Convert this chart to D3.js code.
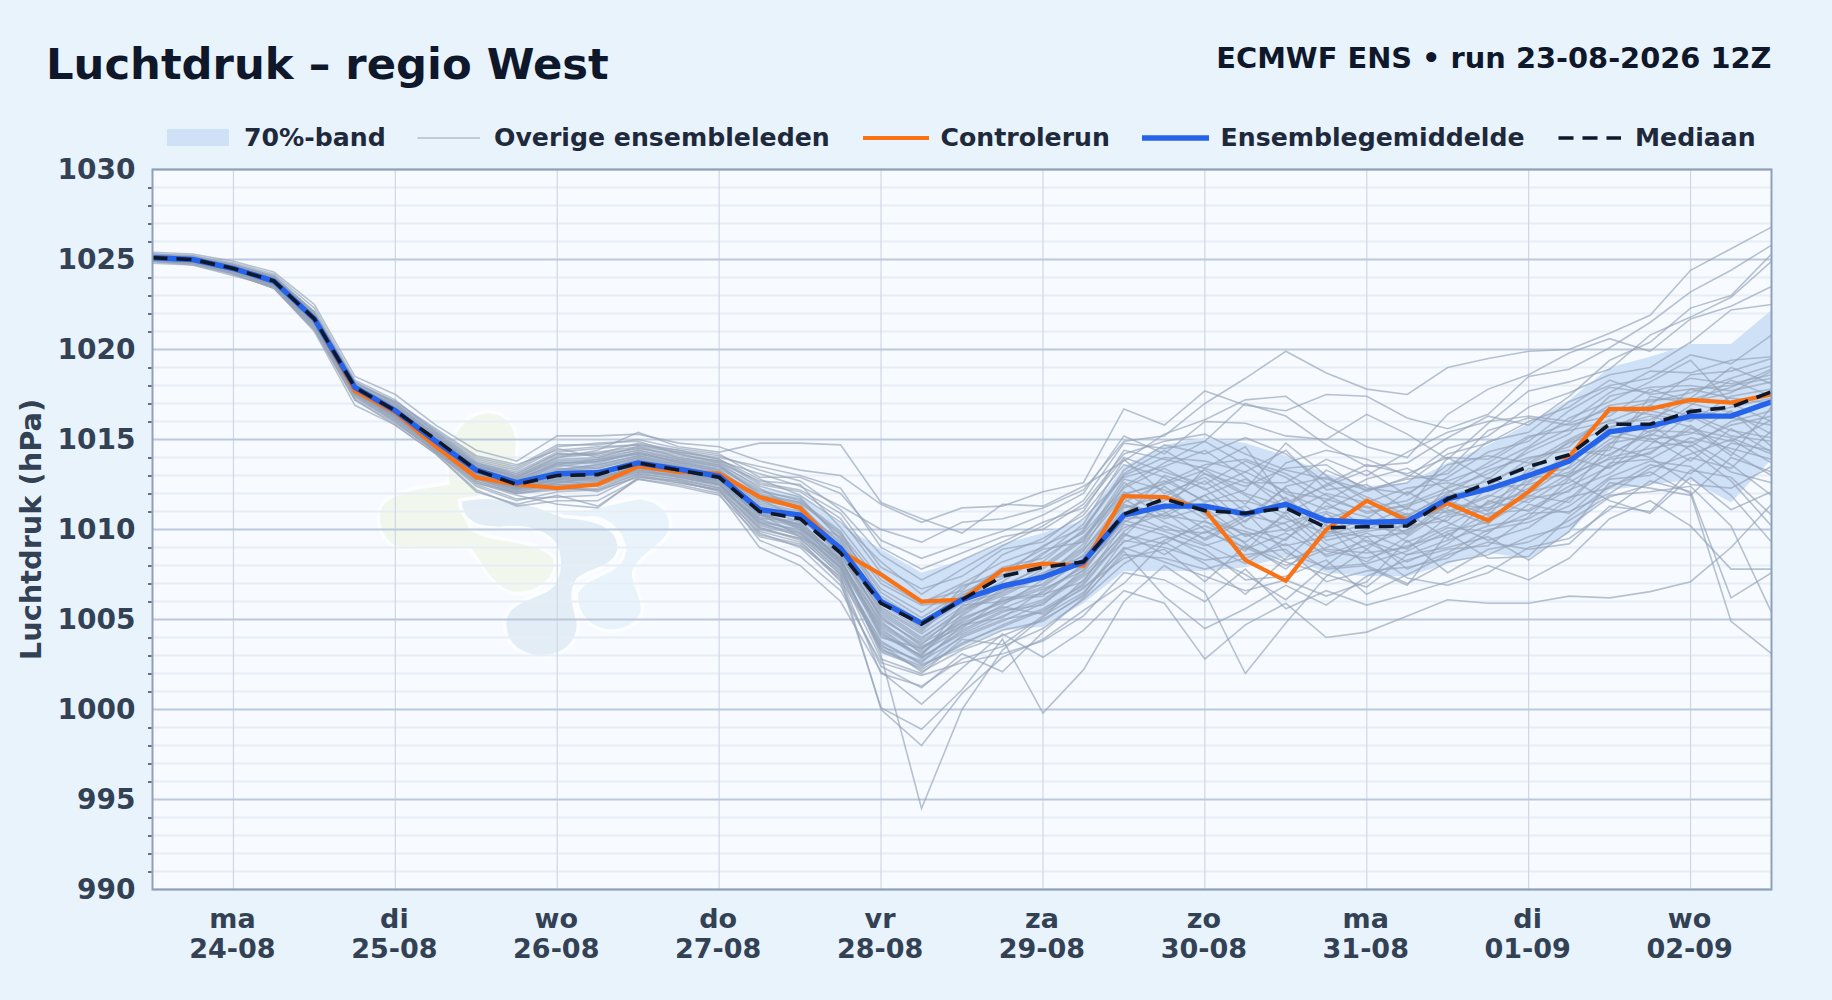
<!DOCTYPE html>
<html lang="nl">
<head>
<meta charset="utf-8">
<title>Luchtdruk - regio West</title>
<script src="https://cdn.jsdelivr.net/npm/d3@7"></script>
<style>
  html, body { margin: 0; padding: 0; background: #e9f3fc; }
  svg { display: block; }
  text { font-family: "DejaVu Sans", sans-serif; font-weight: 700; }
</style>
</head>
<body>
<div id="chart"></div>
<script>
const WIDTH = 1832;
const HEIGHT = 1000;
const STEP_HOURS = 6;

const dayNames = ['ma', 'di', 'wo', 'do', 'vr', 'za', 'zo', 'ma', 'di', 'wo'];
const dayDates = ['24-08', '25-08', '26-08', '27-08', '28-08', '29-08', '30-08', '31-08', '01-09', '02-09'];
const dayHours = [12, 36, 60, 84, 108, 132, 156, 180, 204, 228];
const majorTicks = [990, 995, 1000, 1005, 1010, 1015, 1020, 1025, 1030];
const minorTicks = d3.range(990, 1031).filter(d => d % 5 !== 0);

const controlRun = [1025.1,1025.0,1024.5,1023.8,1021.7,1017.7,1016.5,1014.6,1012.9,1012.5,1012.3,1012.5,1013.5,1013.2,1013.1,1011.8,1011.2,1008.8,1007.5,1006.0,1006.1,1007.75,1008.1,1008.0,1011.85,1011.8,1011.1,1008.3,1007.15,1010.0,1011.6,1010.5,1011.45,1010.5,1012.1,1014.05,1016.7,1016.7,1017.2,1017.05,1017.5];
const ensembleMean = [1025.1,1025.0,1024.5,1023.8,1021.7,1017.9,1016.6,1014.9,1013.3,1012.6,1013.1,1013.15,1013.7,1013.35,1012.95,1011.1,1010.8,1008.95,1006.0,1004.8,1006.1,1006.85,1007.35,1008.2,1010.8,1011.3,1011.3,1010.86,1011.4,1010.5,1010.4,1010.45,1011.7,1012.25,1013.0,1013.8,1015.43,1015.75,1016.3,1016.3,1017.1];
const ensembleMedian = [1025.1,1025.0,1024.5,1023.8,1021.7,1017.9,1016.6,1015.0,1013.3,1012.5,1013.0,1013.05,1013.7,1013.3,1012.9,1011.0,1010.6,1008.7,1005.9,1004.75,1006.1,1007.4,1007.9,1008.2,1010.85,1011.7,1011.05,1010.9,1011.2,1010.1,1010.15,1010.2,1011.7,1012.6,1013.5,1014.15,1015.85,1015.85,1016.55,1016.8,1017.65];
const bandUpper = [1025.3,1025.2,1024.8,1024.1,1022.1,1018.2,1017.0,1015.6,1013.8,1013.0,1013.9,1014.0,1014.3,1014.0,1013.6,1012.3,1011.9,1010.3,1008.9,1007.6,1008.3,1009.2,1009.8,1010.5,1013.5,1014.7,1015.1,1014.8,1014.1,1013.1,1012.4,1012.6,1013.7,1014.7,1015.9,1017.2,1019.0,1019.6,1020.3,1020.3,1022.2];
const bandLower = [1024.9,1024.8,1024.2,1023.5,1021.3,1017.6,1016.2,1014.5,1012.8,1012.0,1012.4,1012.4,1013.0,1012.9,1012.4,1010.2,1009.7,1007.6,1003.1,1002.4,1003.5,1004.4,1004.6,1005.9,1007.7,1007.7,1007.7,1007.9,1008.5,1007.6,1007.4,1007.4,1008.1,1008.7,1008.4,1009.8,1012.2,1012.5,1012.75,1011.5,1013.9];

// individual runs
const members = [
  [1025.3,1025.2,1024.8,1024.2,1022.3,1018.3,1017.2,1015.4,1013.9,1013.4,1014.6,1014.8,1014.9,1014.2,1013.8,1013.1,1012.4,1011.3,1010.0,1009.3,1010.4,1010.6,1011.2,1012.2,1014.9,1015.2,1017.0,1018.4,1019.9,1018.7,1017.8,1017.5,1019.0,1019.5,1019.9,1020.0,1020.9,1021.9,1024.4,1025.6,1026.8],
  [1025.0,1024.9,1024.4,1023.7,1021.5,1017.6,1016.3,1014.7,1013.0,1012.2,1012.8,1012.9,1013.5,1013.2,1012.8,1010.7,1010.1,1008.1,1003.0,994.5,1000.0,1003.3,1005.1,1007.2,1009.9,1011.4,1010.0,1008.8,1011.0,1009.2,1008.2,1009.6,1011.1,1010.3,1012.6,1014.0,1013.4,1015.1,1013.8,1015.6,1014.3],
  [1024.9,1024.8,1024.2,1023.4,1021.0,1016.9,1015.8,1014.2,1012.1,1011.4,1011.9,1011.3,1012.8,1012.4,1011.9,1009.6,1009.1,1007.4,1000.0,998.0,1000.9,1002.9,1003.9,1005.5,1007.0,1009.3,1008.1,1006.4,1008.4,1010.3,1007.9,1006.9,1009.8,1008.4,1008.5,1010.7,1012.4,1013.2,1012.0,1004.9,1003.1],
  [1024.8,1024.7,1024.1,1023.5,1021.2,1017.3,1016.0,1014.3,1012.6,1011.9,1011.4,1011.2,1012.9,1012.6,1012.2,1010.1,1009.4,1007.1,1000.1,998.9,1001.1,1003.9,999.8,1002.2,1006.0,1008.0,1006.5,1002.0,1004.8,1007.4,1008.9,1007.3,1006.9,1007.6,1009.0,1009.5,1011.1,1012.7,1012.1,1006.2,1007.6],
  [1025.3,1025.2,1024.7,1024.1,1022.1,1018.2,1017.0,1015.2,1013.5,1012.9,1014.0,1014.4,1015.4,1014.6,1014.3,1014.8,1014.8,1014.7,1011.5,1010.6,1009.8,1011.4,1011.3,1012.4,1013.8,1015.3,1016.1,1017.2,1017.4,1015.8,1014.6,1014.0,1016.4,1017.8,1018.6,1019.8,1020.6,1019.9,1021.7,1022.4,1023.5],
  [1025.4,1025.3,1024.9,1024.3,1022.5,1018.5,1017.5,1015.8,1014.4,1013.8,1015.2,1015.2,1015.3,1014.8,1014.6,1013.8,1013.3,1013.0,1011.4,1010.4,1011.2,1011.3,1012.1,1012.6,1016.7,1015.8,1017.7,1016.9,1016.6,1017.5,1017.4,1016.2,1015.6,1016.4,1018.5,1018.9,1020.1,1021.5,1023.2,1024.4,1025.8],
  [1025.2,1025.1,1024.7,1024.0,1021.9,1018.0,1016.8,1015.1,1013.5,1013.0,1014.1,1014.3,1014.6,1014.3,1013.9,1012.8,1011.9,1010.4,1008.2,1006.4,1007.8,1009.1,1010.2,1011.6,1014.8,1014.5,1014.9,1017.0,1016.3,1014.7,1013.5,1013.7,1015.1,1016.3,1015.8,1017.4,1019.4,1020.4,1022.3,1023.0,1025.3],
  [1025.1,1024.9,1024.4,1023.7,1021.6,1017.8,1016.4,1014.6,1012.9,1012.2,1013.3,1013.6,1014.1,1013.6,1013.0,1011.7,1010.6,1009.6,1006.7,1005.4,1006.9,1007.4,1009.1,1010.1,1013.1,1014.4,1013.1,1012.4,1013.4,1013.6,1012.1,1012.9,1014.5,1015.2,1016.8,1017.6,1018.6,1019.0,1020.4,1022.2,1022.5],
  [1025.0,1024.9,1024.5,1023.7,1021.6,1017.7,1016.5,1014.8,1013.2,1012.6,1013.6,1013.9,1014.4,1013.9,1013.6,1011.9,1011.4,1009.0,1005.4,1003.9,1005.6,1006.4,1007.5,1009.0,1012.4,1013.7,1014.9,1013.6,1012.0,1011.1,1012.2,1012.8,1013.1,1014.9,1015.4,1017.1,1018.0,1018.4,1019.7,1019.2,1020.8],
  [1025.2,1025.0,1024.5,1023.8,1021.7,1017.8,1016.6,1015.0,1013.4,1012.8,1013.7,1013.7,1014.3,1013.7,1013.4,1012.1,1011.7,1009.5,1006.3,1004.9,1006.3,1007.9,1008.4,1009.9,1013.3,1014.7,1014.2,1015.1,1014.2,1012.6,1011.2,1011.6,1012.9,1014.3,1014.9,1016.6,1017.9,1017.6,1018.4,1018.1,1018.6],
  [1025.1,1025.0,1024.4,1023.7,1021.5,1017.8,1016.5,1014.9,1013.3,1012.7,1013.2,1013.5,1014.0,1013.5,1013.2,1011.4,1010.9,1008.6,1004.8,1003.4,1005.0,1006.0,1007.0,1008.6,1011.5,1012.6,1013.6,1013.9,1013.1,1011.9,1010.9,1011.4,1012.3,1013.1,1014.3,1015.3,1017.4,1017.9,1018.0,1017.7,1018.2],
  [1025.1,1024.9,1024.5,1023.8,1021.6,1017.9,1016.6,1015.0,1013.2,1012.5,1012.9,1013.0,1013.8,1013.4,1013.0,1010.8,1010.3,1008.3,1004.4,1002.9,1004.3,1005.4,1006.1,1007.6,1010.7,1013.0,1012.3,1010.4,1012.4,1012.9,1011.8,1010.8,1011.9,1012.4,1013.9,1014.6,1016.5,1017.1,1017.6,1018.4,1019.1],
  [1024.9,1024.8,1024.3,1023.5,1021.3,1017.5,1016.2,1014.4,1012.8,1012.1,1012.6,1012.7,1013.3,1013.0,1012.7,1010.5,1009.9,1007.9,1003.3,1002.4,1003.6,1004.7,1005.6,1006.9,1009.6,1011.8,1013.1,1011.9,1010.6,1009.8,1010.6,1012.1,1010.9,1011.8,1013.2,1014.9,1015.9,1016.1,1017.2,1017.9,1018.9],
  [1025.2,1025.1,1024.6,1024.0,1021.9,1018.0,1016.9,1015.3,1013.7,1013.2,1014.3,1014.5,1014.7,1014.4,1014.1,1013.3,1012.7,1011.1,1008.6,1007.2,1008.3,1009.3,1010.4,1011.2,1014.0,1013.2,1012.5,1013.8,1012.9,1011.5,1010.1,1009.9,1012.4,1013.7,1015.1,1015.9,1016.7,1016.4,1016.0,1017.4,1017.8],
  [1025.1,1024.9,1024.4,1023.7,1021.6,1017.7,1016.4,1014.6,1013.0,1012.4,1012.7,1012.8,1013.4,1013.1,1012.5,1010.4,1009.6,1007.7,1003.7,1002.6,1004.7,1005.1,1006.6,1007.9,1010.1,1010.9,1011.9,1012.8,1011.7,1009.4,1009.9,1010.2,1010.5,1012.3,1012.5,1013.2,1014.8,1015.2,1016.7,1016.2,1015.8],
  [1024.9,1024.7,1024.2,1023.4,1021.1,1017.2,1015.9,1014.4,1012.7,1012.0,1012.3,1012.2,1013.1,1012.8,1012.3,1009.9,1009.3,1007.3,1002.0,1001.3,1002.8,1003.5,1004.5,1006.1,1008.1,1009.4,1010.2,1009.3,1010.8,1008.8,1008.4,1009.1,1009.7,1010.9,1011.1,1012.4,1013.5,1014.3,1015.6,1015.1,1014.2],
  [1025.1,1024.9,1024.4,1023.6,1021.4,1017.6,1016.3,1014.7,1013.1,1012.4,1012.5,1012.6,1013.6,1013.3,1012.9,1011.2,1010.4,1008.4,1004.1,1003.0,1005.3,1006.7,1006.9,1008.3,1011.2,1011.9,1010.6,1011.3,1009.9,1010.6,1011.3,1009.7,1011.4,1011.2,1012.3,1013.8,1015.2,1014.9,1014.6,1016.0,1016.6],
  [1025.2,1025.0,1024.6,1023.9,1021.8,1017.9,1016.7,1015.1,1013.6,1013.1,1014.2,1014.1,1014.5,1014.1,1013.8,1012.5,1012.1,1010.6,1007.6,1006.0,1006.6,1008.6,1009.5,1010.8,1013.6,1012.9,1011.5,1012.2,1014.8,1013.0,1011.6,1010.7,1012.0,1013.3,1014.0,1014.4,1014.1,1015.5,1015.4,1014.9,1016.1],
  [1025.1,1025.0,1024.5,1023.7,1021.6,1017.8,1016.5,1014.8,1013.1,1012.3,1012.8,1012.9,1013.4,1013.2,1012.6,1010.3,1009.8,1007.8,1003.5,1002.7,1004.0,1004.9,1005.9,1007.4,1009.3,1010.2,1009.2,1008.1,1009.5,1010.9,1009.3,1008.2,1009.2,1010.7,1011.9,1011.5,1013.7,1013.9,1015.1,1014.5,1013.9],
  [1025.0,1024.9,1024.3,1023.5,1021.2,1017.4,1016.0,1014.3,1012.5,1011.7,1011.8,1011.9,1013.0,1012.7,1012.1,1009.8,1009.0,1006.9,1002.4,1001.2,1003.1,1002.1,1004.3,1006.2,1008.8,1006.3,1004.5,1005.6,1006.9,1005.8,1007.4,1008.3,1008.9,1009.1,1010.7,1012.8,1011.6,1010.9,1012.9,1011.1,1012.1],
  [1024.9,1024.8,1024.2,1023.4,1021.1,1017.2,1015.8,1014.2,1012.2,1011.3,1011.6,1011.6,1012.8,1012.5,1012.0,1009.0,1008.0,1006.0,1002.1,1000.3,1002.3,1004.2,1002.9,1004.4,1006.6,1005.9,1002.8,1004.7,1005.9,1004.0,1004.3,1005.2,1006.1,1005.9,1005.9,1006.3,1006.2,1006.55,1007.1,1009.0,1011.4],
  [1025.1,1025.0,1024.5,1023.8,1021.7,1017.8,1016.6,1014.9,1013.2,1012.6,1013.4,1013.2,1013.9,1013.4,1013.1,1011.5,1011.0,1008.9,1005.0,1003.7,1004.8,1005.7,1005.3,1006.8,1008.4,1008.9,1007.1,1009.1,1008.2,1007.5,1006.8,1008.6,1009.0,1009.6,1008.3,1009.9,1012.6,1012.3,1011.9,1014.0,1013.2],
  [1025.2,1025.1,1024.6,1023.9,1021.9,1017.9,1016.8,1015.2,1013.5,1012.9,1013.8,1013.9,1014.2,1013.8,1013.5,1012.2,1011.6,1009.9,1006.1,1004.5,1005.9,1006.5,1007.8,1009.4,1012.8,1012.2,1010.9,1009.2,1007.8,1009.7,1010.3,1011.2,1010.4,1009.4,1010.1,1011.7,1013.6,1015.8,1014.4,1012.7,1010.2],
  [1025.1,1025.0,1024.5,1023.8,1021.6,1017.7,1016.4,1014.7,1013.0,1012.3,1013.0,1013.3,1013.6,1013.1,1012.8,1010.9,1010.2,1008.0,1004.6,1003.2,1004.5,1006.2,1006.4,1007.1,1010.3,1009.7,1008.6,1007.5,1006.1,1008.0,1009.6,1007.8,1008.7,1010.0,1010.4,1011.3,1012.9,1013.8,1013.5,1011.9,1009.3],
  [1025.0,1024.9,1024.3,1023.6,1021.5,1017.5,1016.2,1014.5,1012.8,1012.1,1012.5,1012.4,1013.2,1012.9,1012.4,1010.0,1009.5,1007.5,1002.8,1002.0,1003.9,1003.6,1005.2,1006.5,1009.0,1008.2,1007.4,1006.6,1007.2,1006.3,1007.1,1009.4,1007.6,1008.9,1009.3,1010.5,1011.9,1012.1,1012.4,1010.2,1005.4],
  [1025.1,1025.0,1024.6,1023.8,1021.7,1017.9,1016.7,1015.1,1013.4,1012.7,1013.5,1013.8,1014.2,1013.8,1013.3,1011.8,1011.3,1009.2,1005.6,1004.2,1005.7,1006.8,1008.0,1009.6,1012.1,1010.7,1011.9,1010.1,1009.4,1011.6,1012.8,1013.4,1012.2,1011.0,1013.4,1012.9,1014.7,1016.9,1016.3,1015.2,1014.9],
  [1025.1,1024.9,1024.5,1023.7,1021.7,1017.8,1016.5,1014.8,1013.2,1012.5,1013.1,1013.1,1013.8,1013.5,1013.0,1011.3,1010.7,1008.5,1005.2,1003.5,1004.6,1005.8,1007.2,1008.8,1011.7,1010.4,1009.5,1010.7,1012.3,1010.2,1008.9,1010.5,1011.2,1012.9,1012.0,1013.5,1015.7,1016.3,1015.7,1014.1,1016.8],
  [1025.2,1025.0,1024.5,1023.8,1021.8,1017.9,1016.7,1015.0,1013.4,1012.8,1013.6,1013.4,1014.0,1013.6,1013.3,1011.6,1011.2,1009.3,1005.9,1004.4,1006.8,1007.7,1008.9,1009.3,1012.6,1011.1,1013.4,1014.6,1011.5,1012.4,1013.3,1011.9,1013.6,1014.1,1013.7,1015.0,1016.1,1015.4,1016.9,1018.3,1017.4],
  [1025.1,1025.0,1024.4,1023.7,1021.5,1017.8,1016.4,1014.6,1013.1,1012.4,1012.9,1013.2,1013.7,1013.2,1012.8,1010.6,1010.5,1008.2,1004.9,1003.1,1004.9,1006.1,1006.3,1008.1,1010.9,1012.4,1010.8,1009.7,1010.0,1011.3,1010.7,1009.3,1010.2,1011.5,1012.7,1014.2,1014.4,1017.4,1017.0,1016.5,1015.3],
  [1025.0,1024.9,1024.4,1023.7,1021.6,1017.6,1016.3,1014.5,1012.9,1012.2,1012.6,1012.9,1013.5,1013.0,1012.6,1010.2,1009.7,1007.6,1003.8,1002.5,1003.4,1004.4,1004.9,1006.4,1009.4,1009.0,1008.3,1008.6,1008.9,1007.1,1007.7,1007.9,1008.4,1009.8,1011.4,1010.9,1012.8,1013.0,1014.7,1013.2,1012.6],
  [1025.1,1025.0,1024.5,1023.8,1021.7,1017.8,1016.6,1014.9,1013.3,1012.6,1013.3,1013.6,1014.1,1013.7,1013.2,1011.9,1011.5,1009.8,1007.0,1005.8,1006.0,1007.1,1008.6,1010.3,1013.9,1012.0,1012.9,1011.4,1013.7,1014.4,1013.9,1013.0,1012.7,1013.5,1014.6,1016.2,1017.1,1018.2,1019.4,1017.0,1016.0],
  [1025.3,1025.1,1024.7,1024.1,1022.0,1018.2,1017.1,1015.5,1014.0,1013.5,1014.7,1014.7,1015.0,1014.5,1014.2,1012.9,1012.9,1012.0,1009.4,1008.4,1009.2,1009.9,1010.8,1012.0,1015.2,1014.2,1016.0,1015.9,1015.2,1015.0,1016.4,1015.3,1013.9,1015.9,1017.7,1018.2,1018.9,1020.8,1021.8,1022.9,1024.9],
  [1024.9,1024.8,1024.3,1023.5,1021.3,1017.4,1016.1,1014.3,1012.4,1011.6,1012.1,1012.2,1012.9,1012.7,1012.2,1009.4,1008.5,1006.6,1002.6,1001.9,1002.6,1003.1,1003.8,1005.2,1007.6,1007.2,1006.0,1007.8,1005.6,1006.6,1005.8,1006.4,1007.1,1008.0,1007.2,1008.4,1010.6,1011.6,1010.2,1007.8,1007.8],
  [1025.1,1025.0,1024.5,1023.7,1021.6,1017.8,1016.5,1014.8,1013.1,1012.4,1013.1,1013.0,1013.7,1013.3,1012.9,1011.0,1010.0,1008.6,1005.3,1003.8,1005.2,1006.6,1007.6,1008.5,1011.0,1010.0,1009.8,1010.8,1010.3,1008.5,1009.1,1010.0,1010.8,1011.4,1012.1,1012.6,1014.0,1014.5,1014.9,1013.6,1011.9],
  [1025.0,1024.9,1024.4,1023.7,1021.5,1017.7,1016.4,1014.7,1013.0,1012.3,1012.7,1012.5,1013.3,1012.9,1012.5,1010.4,1010.0,1007.9,1004.3,1002.8,1004.4,1005.5,1005.8,1007.8,1010.4,1011.6,1012.7,1011.0,1008.7,1007.9,1008.1,1008.8,1009.9,1010.4,1011.7,1012.1,1014.6,1014.0,1012.5,1012.3,1013.5],
  [1025.2,1025.0,1024.6,1023.9,1021.8,1018.0,1016.9,1015.2,1013.6,1013.0,1014.0,1014.2,1014.8,1014.4,1013.9,1012.6,1012.2,1010.9,1007.9,1006.7,1007.4,1008.9,1009.3,1011.0,1014.4,1013.9,1013.4,1012.6,1012.6,1013.9,1013.0,1014.3,1015.4,1016.0,1016.3,1016.0,1017.6,1018.8,1018.7,1019.4,1019.6],
  [1025.1,1024.9,1024.5,1023.8,1021.7,1017.9,1016.6,1015.0,1013.3,1012.6,1013.2,1013.4,1013.9,1013.5,1013.1,1011.1,1010.8,1008.8,1005.5,1004.0,1005.4,1007.0,1007.3,1009.2,1011.9,1012.7,1011.6,1011.6,1010.9,1012.0,1011.5,1012.3,1012.6,1012.1,1013.0,1013.4,1015.0,1015.9,1017.8,1017.3,1017.0],
  [1025.1,1025.0,1024.5,1023.7,1021.6,1017.7,1016.5,1014.7,1013.1,1012.5,1012.9,1012.8,1013.5,1013.1,1012.7,1010.8,1010.3,1008.3,1004.7,1003.3,1005.1,1005.9,1006.7,1007.7,1010.6,1010.8,1010.4,1009.9,1009.1,1009.6,1010.0,1010.9,1009.5,1011.6,1011.0,1012.2,1013.1,1014.7,1016.4,1015.5,1015.1],
  [1025.0,1024.9,1024.4,1023.6,1021.5,1017.6,1016.3,1014.6,1012.9,1012.3,1012.4,1012.6,1013.2,1013.0,1012.5,1010.1,1009.5,1007.5,1003.4,1002.2,1003.7,1004.6,1005.5,1006.7,1008.9,1009.6,1008.9,1007.2,1007.4,1008.3,1006.4,1007.5,1008.6,1009.3,1008.9,1009.2,1011.3,1011.0,1013.3,1012.9,1010.8],
  [1025.1,1025.0,1024.6,1023.8,1021.8,1017.9,1016.7,1015.0,1013.4,1012.7,1013.7,1013.8,1014.3,1013.9,1013.5,1012.0,1011.5,1009.7,1006.5,1005.1,1006.5,1007.5,1008.2,1010.0,1013.0,1014.0,1013.8,1013.2,1014.4,1012.2,1012.5,1011.1,1014.0,1012.8,1014.5,1015.6,1016.9,1017.2,1017.3,1019.0,1018.1],
  [1025.1,1024.9,1024.5,1023.8,1021.6,1017.8,1016.5,1014.9,1013.2,1012.5,1013.0,1013.1,1013.8,1013.4,1013.0,1011.2,1010.6,1008.7,1005.1,1003.6,1005.5,1006.3,1007.4,1008.9,1011.3,1011.0,1009.4,1010.5,1011.8,1009.9,1009.6,1009.8,1011.6,1010.8,1012.9,1013.0,1015.5,1015.0,1015.3,1016.6,1014.6],
  [1025.1,1025.0,1024.4,1023.7,1021.7,1017.8,1016.4,1014.8,1013.1,1012.4,1012.8,1013.0,1013.6,1013.2,1012.8,1010.9,1010.1,1008.1,1004.5,1002.9,1004.2,1005.2,1006.0,1007.5,1009.8,1008.6,1009.9,1009.0,1008.0,1008.9,1008.7,1009.0,1010.1,1009.9,1010.9,1011.0,1012.0,1013.4,1014.2,1015.0,1013.7],
  [1025.2,1025.1,1024.6,1024.0,1022.1,1018.1,1017.1,1015.6,1014.1,1013.6,1014.4,1014.6,1014.7,1014.3,1014.0,1013.5,1013.0,1012.3,1009.0,1007.8,1008.7,1009.6,1010.0,1011.4,1014.2,1014.9,1015.3,1014.2,1013.3,1012.8,1012.2,1012.6,1014.2,1014.8,1016.0,1016.8,1018.3,1017.5,1017.8,1018.0,1018.4],
  [1025.2,1025.1,1024.7,1024.0,1022.0,1018.1,1017.0,1015.4,1013.8,1013.3,1014.5,1014.0,1014.6,1014.0,1013.7,1012.7,1012.5,1010.1,1007.2,1005.9,1007.0,1008.2,1009.0,1010.6,1012.9,1013.5,1014.4,1012.9,1011.2,1013.3,1012.3,1012.0,1013.3,1015.5,1016.2,1015.8,1016.3,1017.8,1017.1,1017.6,1018.8],
  [1025.0,1024.8,1024.3,1023.6,1021.4,1017.5,1016.1,1014.5,1012.7,1012.0,1012.2,1012.3,1013.1,1012.8,1012.3,1010.6,1009.8,1007.9,1003.2,1002.3,1004.1,1005.0,1005.4,1007.0,1009.7,1009.2,1010.5,1008.9,1009.8,1008.6,1009.4,1008.6,1009.4,1010.2,1010.6,1011.8,1012.3,1013.6,1013.1,1014.8,1014.4],
  [1025.1,1024.9,1024.4,1023.6,1021.5,1017.7,1016.3,1014.6,1012.8,1012.3,1012.6,1012.9,1013.4,1012.9,1012.5,1010.9,1009.6,1008.4,1004.2,1003.0,1005.8,1006.0,1006.8,1008.4,1011.4,1010.6,1011.2,1009.6,1010.4,1011.0,1010.2,1010.7,1011.0,1011.9,1011.5,1012.9,1014.2,1015.3,1014.8,1015.8,1016.3],
  [1025.1,1025.0,1024.5,1023.8,1021.7,1017.9,1016.7,1015.2,1013.6,1012.9,1013.9,1014.0,1014.4,1014.0,1013.6,1012.4,1011.8,1009.4,1006.0,1004.6,1006.2,1007.3,1008.7,1009.8,1012.3,1013.4,1012.2,1013.2,1012.1,1011.7,1011.0,1011.3,1012.1,1012.7,1013.6,1014.8,1015.6,1016.6,1016.1,1016.8,1017.3],
  [1025.0,1024.9,1024.3,1023.6,1021.4,1017.6,1016.2,1014.4,1012.6,1012.0,1012.4,1012.1,1013.0,1012.6,1012.2,1009.7,1009.2,1007.2,1003.6,1002.1,1003.3,1004.1,1005.0,1006.3,1008.6,1008.4,1007.8,1008.4,1009.2,1007.8,1008.0,1007.0,1008.2,1008.6,1009.6,1010.2,1011.8,1012.5,1014.0,1013.4,1015.5],
  [1025.2,1025.0,1024.6,1023.9,1021.8,1018.0,1016.8,1015.3,1013.7,1013.1,1014.2,1014.2,1014.5,1014.2,1013.7,1012.3,1011.0,1009.1,1005.7,1004.3,1006.4,1006.9,1007.9,1009.5,1012.0,1012.5,1013.3,1012.0,1011.3,1012.5,1013.6,1013.1,1014.0,1013.9,1015.2,1015.5,1016.0,1016.9,1018.6,1018.8,1019.5],
  [1025.1,1024.9,1024.5,1023.7,1021.6,1017.7,1016.4,1014.7,1013.0,1012.4,1012.8,1012.7,1013.6,1013.2,1012.7,1011.0,1010.2,1008.2,1004.0,1003.4,1004.7,1005.6,1006.5,1008.0,1010.5,1009.9,1009.1,1009.8,1008.3,1009.0,1009.8,1008.9,1010.7,1011.1,1011.8,1013.1,1013.9,1014.2,1015.8,1014.3,1013.0]
];

const width = WIDTH;
const margin = { left: 152.5, right: 60.5, top: 169.5, bottom: 110.5 };

const x = d3.scaleLinear().domain([0, 240]).range([margin.left, WIDTH - margin.right]);
const y = d3.scaleLinear().domain([990, 1030]).range([HEIGHT - margin.bottom, margin.top]);

const hours = d3.range(0, 241, STEP_HOURS);

const lineFor = d3.line()
  .x((d, i) => x(hours[i]))
  .y(d => y(d));

const svg = d3.select('#chart').append('svg')
  .attr('width', width)
  .attr('height', HEIGHT)
  .attr('viewBox', `0 0 ${width} ${HEIGHT}`);

const defs = svg.append('defs');
defs.append('clipPath').attr('id', 'plot-clip')
  .append('rect')
  .attr('x', x.range()[0])
  .attr('y', y.range()[1])
  .attr('width', x.range()[1] - x.range()[0])
  .attr('height', y.range()[0] - y.range()[1]);

svg.append('rect')
  .attr('width', width)
  .attr('height', HEIGHT)
  .attr('fill', '#e9f3fc');

// Plot background
svg.append('rect')
  .attr('x', x.range()[0])
  .attr('y', y.range()[1])
  .attr('width', x.range()[1] - x.range()[0])
  .attr('height', y.range()[0] - y.range()[1])
  .attr('fill', '#f7fbff');

// Faint logo behind the data
const logo = svg.append('g')
  .attr('transform', 'translate(360, 390) scale(0.3333)')
  .attr('stroke', '#fbfdff')
  .attr('stroke-width', 22)
  .style('paint-order', 'stroke');
logo.append('path')
  .attr('fill', '#f1f7ec')
  .attr('d', 'M60,380 C60,320 140,300 270,285 C255,190 280,90 370,72 C440,62 475,120 465,190 C450,280 300,300 320,400 C340,470 540,440 580,510 C590,570 520,610 460,605 C400,590 370,520 330,470 C240,470 150,475 105,465 C75,445 60,420 60,380 Z');
logo.append('path')
  .attr('fill', '#e8f3fb')
  .attr('d', 'M555,360 C640,385 760,340 840,328 C910,340 935,380 925,420 C905,470 830,490 815,550 C820,600 850,630 840,670 C820,710 770,725 730,715 C680,700 650,660 655,610 C690,550 790,560 800,480 C795,420 740,375 690,378 C640,385 590,385 555,360 Z');
logo.append('path')
  .attr('fill', '#e3edf6')
  .attr('d', 'M305,335 C400,315 500,335 610,385 C700,390 770,410 772,470 C770,530 690,530 650,565 C620,610 640,650 650,700 C650,770 590,800 530,795 C470,785 435,750 440,690 C450,640 520,630 570,600 C610,570 610,500 590,460 C560,420 500,400 420,410 C350,410 310,390 305,335 Z');

// Grid
svg.append('g').selectAll('line')
  .data(minorTicks)
  .join('line')
    .attr('x1', x.range()[0])
    .attr('x2', x.range()[1])
    .attr('y1', d => y(d))
    .attr('y2', d => y(d))
    .attr('stroke', '#e7edf5')
    .attr('stroke-width', 2);

svg.append('g').selectAll('line')
  .data(dayHours)
  .join('line')
    .attr('x1', d => x(d))
    .attr('x2', d => x(d))
    .attr('y1', y.range()[0])
    .attr('y2', y.range()[1])
    .attr('stroke', '#cfd7e4')
    .attr('stroke-width', 1.2);

svg.append('g').selectAll('line')
  .data(majorTicks)
  .join('line')
    .attr('x1', x.range()[0])
    .attr('x2', x.range()[1])
    .attr('y1', d => y(d))
    .attr('y2', d => y(d))
    .attr('stroke', '#bcc8dc')
    .attr('stroke-width', 2);

const plot = svg.append('g').attr('clip-path', 'url(#plot-clip)');

// 70% band
const band = d3.area()
  .x((d, i) => x(hours[i]))
  .y0((d, i) => y(bandLower[i]))
  .y1(d => y(d));

plot.append('path')
  .datum(bandUpper)
  .attr('d', band)
  .attr('fill', '#cfe1f7');

// Ensemble members
plot.append('g').selectAll('path')
  .data(members)
  .join('path')
    .attr('d', lineFor)
    .attr('fill', 'none')
    .attr('stroke', '#94a3b8')
    .attr('stroke-opacity', 0.66)
    .attr('stroke-width', 1.6);

plot.append('path')
  .datum(controlRun)
  .attr('d', lineFor)
  .attr('fill', 'none')
  .attr('stroke', '#f97316')
  .attr('stroke-width', 4.2);

plot.append('path')
  .datum(ensembleMean)
  .attr('d', lineFor)
  .attr('fill', 'none')
  .attr('stroke', '#2563eb')
  .attr('stroke-width', 5.4);

plot.append('path')
  .datum(ensembleMedian)
  .attr('d', lineFor)
  .attr('fill', 'none')
  .attr('stroke', '#0f172a')
  .attr('stroke-width', 3.6)
  .attr('stroke-dasharray', '15,9');

// Frame
svg.append('rect')
  .attr('x', x.range()[0])
  .attr('y', y.range()[1])
  .attr('width', x.range()[1] - x.range()[0])
  .attr('height', y.range()[0] - y.range()[1])
  .attr('fill', 'none')
  .attr('stroke', '#8fa1b9')
  .attr('stroke-width', 2);

// Axes
const yAxis = svg.append('g')
  .attr('transform', `translate(${x.range()[0] - 1}, 0)`)
  .call(d3.axisLeft(y).tickValues(majorTicks).tickSize(0).tickPadding(16).tickFormat(d3.format('d')));
yAxis.select('.domain').remove();
yAxis.selectAll('text')
  .attr('fill', '#334155')
  .style('font-size', '28px');

const yMinor = svg.append('g')
  .attr('transform', `translate(${x.range()[0] - 1}, 0)`)
  .call(d3.axisLeft(y).tickValues(minorTicks).tickSize(3.5).tickFormat(''));
yMinor.select('.domain').remove();
yMinor.selectAll('line').attr('stroke', '#0f172a').attr('stroke-width', 1.2);

const xAxis = svg.append('g')
  .attr('transform', `translate(-1.5, ${y.range()[0]})`)
  .call(d3.axisBottom(x).tickValues(dayHours).tickSize(0).tickFormat(''));
xAxis.select('.domain').remove();
xAxis.selectAll('.tick').each(function(d, i) {
  const label = d3.select(this).select('text').text(null)
    .attr('y', 0)
    .attr('fill', '#334155')
    .style('font-size', '27px');
  label.append('tspan').attr('x', 0).attr('dy', 38).text(dayNames[i]);
  label.append('tspan').attr('x', 0).attr('dy', 30).text(dayDates[i]);
});

svg.append('text')
  .attr('transform', `translate(41, ${(y.range()[0] + y.range()[1]) / 2}) rotate(-90)`)
  .attr('text-anchor', 'middle')
  .attr('fill', '#334155')
  .style('font-size', '28.8px')
  .text('Luchtdruk (hPa)');

// Titles
svg.append('text')
  .attr('x', 46)
  .attr('y', 79)
  .attr('fill', '#0f172a')
  .style('font-size', '43.3px')
  .text('Luchtdruk – regio West');

svg.append('text')
  .attr('x', x.range()[1])
  .attr('y', 68)
  .attr('text-anchor', 'end')
  .attr('fill', '#0f172a')
  .style('font-size', '28.85px')
  .text('ECMWF ENS • run 23-08-2026 12Z');

// Legend
const legendY = 138;
const legend = svg.append('g');

legend.append('rect')
  .attr('x', 167).attr('y', legendY - 9)
  .attr('width', 62).attr('height', 17)
  .attr('fill', '#cfe1f7');

const legendLines = [
  { x1: 417.5, x2: 480, stroke: '#94a3b8', w: 1.6, op: 0.66 },
  { x1: 863, x2: 929, stroke: '#f97316', w: 4.2, op: 1 },
  { x1: 1142, x2: 1209, stroke: '#2563eb', w: 5.4, op: 1 },
  { x1: 1558.5, x2: 1621, stroke: '#0f172a', w: 3.6, op: 1, dash: '15,9' }
];
legend.selectAll('line')
  .data(legendLines)
  .join('line')
    .attr('x1', d => d.x1)
    .attr('x2', d => d.x2)
    .attr('y1', legendY)
    .attr('y2', legendY)
    .attr('stroke', d => d.stroke)
    .attr('stroke-width', d => d.w)
    .attr('stroke-opacity', d => d.op)
    .attr('stroke-dasharray', d => d.dash || null);

const legendLabels = [
  { x: 244, t: '70%-band' },
  { x: 494, t: 'Overige ensembleleden' },
  { x: 940.5, t: 'Controlerun' },
  { x: 1220.5, t: 'Ensemblegemiddelde' },
  { x: 1635, t: 'Mediaan' }
];
legend.selectAll('text')
  .data(legendLabels)
  .join('text')
    .attr('x', d => d.x)
    .attr('y', 146)
    .attr('fill', '#1e293b')
    .style('font-size', '25.2px')
    .text(d => d.t);
</script>
</body>
</html>
